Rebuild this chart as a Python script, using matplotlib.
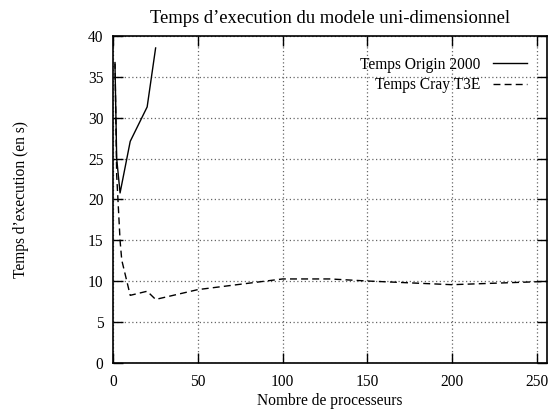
import numpy as np
import matplotlib
matplotlib.use("Agg")
import matplotlib.pyplot as plt

# Values
procs_origin = [1, 2, 4, 10, 20, 25]
temps_origin = [36.5, 25.0, 20.8, 27.1, 31.3, 38.5]

procs_cray = [1, 2, 4, 5, 10, 20, 25, 50, 100, 128, 150, 200, 256]
temps_cray = [36.8, 23.0, 15.0, 12.6, 8.3, 8.8, 7.8, 9.0, 10.3, 10.3, 10.05, 9.6, 10.0]

x_ticks = [0, 50, 100, 150, 200, 250]
y_ticks = [0, 5, 10, 15, 20, 25, 30, 35, 40]

plt.rcParams['font.family'] = ['Liberation Serif', 'DejaVu Serif']
plt.rcParams['font.size'] = 11.2

fig = plt.figure(figsize=(5.54, 4.13), dpi=100)
ax = fig.add_axes([0.2045, 0.1203, 0.7823, 0.7933])

ax.plot(procs_origin, temps_origin, color='black', lw=1.0, label='Temps Origin 2000')
ax.plot(procs_cray, temps_cray, color='black', lw=1.0, dashes=(5, 3), label='Temps Cray T3E')

ax.set_xlim(0, 256)
ax.set_ylim(0, 40)
ax.set_xticks(x_ticks)
ax.set_yticks(y_ticks)
ax.tick_params(direction='in', length=7, width=1.0, top=True, right=True)
ax.tick_params(axis='y', pad=7)
ax.tick_params(axis='x', pad=8)
for s in ax.spines.values():
    s.set_linewidth(1.2)

ax.grid(True, color='0.4', linestyle=(0, (1, 2)), linewidth=0.9)

ax.set_title('Temps d’execution du modele uni-dimensionnel', pad=9)
ax.set_xlabel('Nombre de processeurs')
ax.xaxis.set_label_coords(0.5, -0.092)
ax.set_ylabel('Temps d’execution (en s)')
ax.yaxis.set_label_coords(-0.195, 0.5)

leg = ax.legend(loc='upper right', bbox_to_anchor=(0.97, 0.955), frameon=False,
                markerfirst=False, handlelength=2.2, handletextpad=0.8,
                labelspacing=0.3, borderaxespad=0)
for t in leg.get_texts():
    t.set_ha('right')

fig.savefig('out.png', dpi=100)
